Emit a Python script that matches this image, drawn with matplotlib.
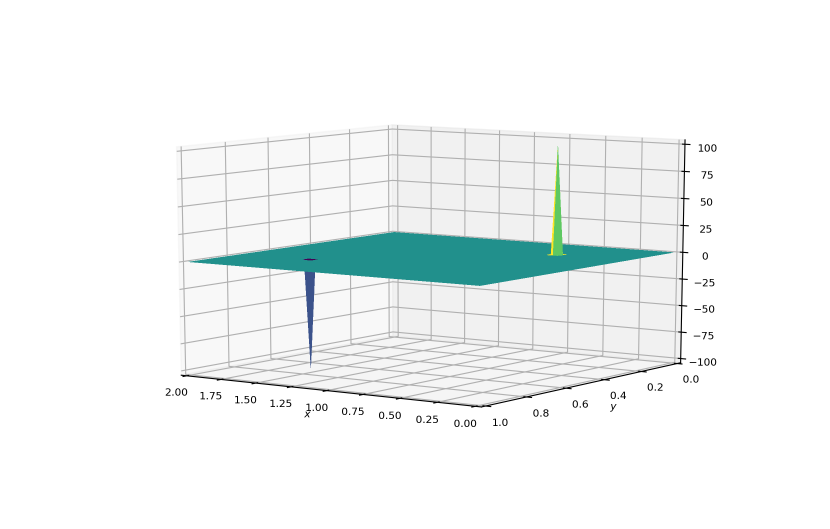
import io
import numpy as np
import matplotlib
matplotlib.use("Agg")
import matplotlib.pyplot as plt
from matplotlib.colors import Normalize

x_start, x_stop, nx = 0.0, 2.0, 50
y_start, y_stop, ny = 0.0, 1.0, 50
spike_cols = [12, 37]
spike_rows = [12, 37]
spike_values = [100.0, -100.0]

x = np.linspace(x_start, x_stop, nx)
y = np.linspace(y_start, y_stop, ny)
X, Y = np.meshgrid(x, y)
Z = np.zeros((ny, nx))
for row, col, value in zip(spike_rows, spike_cols, spike_values):
    Z[row, col] = value

# per-cell colour value: mean of the four corners, with the front faces tinted as read
norm = Normalize(-25, 25)
cell = (Z[:-1, :-1] + Z[1:, :-1] + Z[:-1, 1:] + Z[1:, 1:]) / 4
cell = np.pad(cell, ((0, 1), (0, 1)))
r, c = spike_rows[0], spike_cols[0]
cell[r, c - 1] = 12.5
cell[r, c] = 25.0
r, c = spike_rows[1], spike_cols[1]
cell[r, c - 1] = -12.5
cell[r, c] = -12.5
colors = plt.cm.viridis(norm(cell))

fig = plt.figure(figsize=(8.3, 5.29), dpi=100)
ax = fig.add_subplot(111, projection="3d")
ax.apply_aspect = lambda position=None: None
ax.set_position([0.125, 0.11 + 4.5 / 529, 0.775, 0.77])
ax.set_box_aspect((1, 1, 1), zoom=1.04 / 1.1)
ax.plot_surface(X, Y, Z, rstride=1, cstride=1, facecolors=colors, shade=False,
                linewidth=0, antialiased=False)
ax.view_init(elev=10, azim=125)
ax.set_xlim(0, 2, view_margin=0.02)
ax.set_ylim(0, 1, view_margin=0.02)
ax.set_zlim(-100, 100, view_margin=0.02)
ax.set_xlabel("$x$", fontsize=7.5, labelpad=-4)
ax.set_ylabel("$y$", fontsize=7.5, labelpad=-3)
ax.tick_params(labelsize=7.5, pad=1)

# Render at 3x and average down, which gives the soft edges of the reference.
fig.savefig("out.png", dpi=100)
buf = io.BytesIO()
fig.savefig(buf, format="png", dpi=300)
buf.seek(0)
hi = plt.imread(buf)[:, :, :3]
h, w = hi.shape[0] // 3, hi.shape[1] // 3
lo = hi[:h * 3, :w * 3].reshape(h, 3, w, 3, 3).mean(axis=(1, 3))
plt.imsave("out.png", lo)
